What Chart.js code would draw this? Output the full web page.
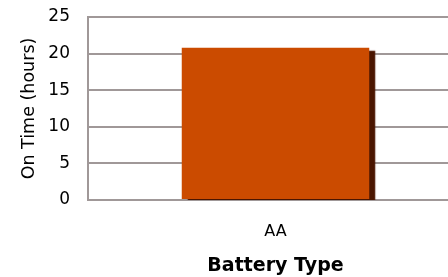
<!DOCTYPE html>
<html>
<head>
<meta charset="utf-8">
<script src="https://cdn.jsdelivr.net/npm/chart.js@4"></script>
<style>
  html, body { margin: 0; padding: 0; background: #fff; overflow: hidden; }
  #chart { display: block; }
</style>
</head>
<body>
<canvas id="chart" width="464" height="277"></canvas>
<script>
// data
const categories = ["AA"];
const onTimeHours = [20.8];
const yTicks = [0, 5, 10, 15, 20, 25];

const FONT = "'DejaVu Sans', sans-serif";
const GRID = "#a09898";

// dark drop shadow behind the bars
const barShadow = {
  id: "barShadow",
  beforeDatasetsDraw(chart) {
    const ctx = chart.ctx;
    ctx.save();
    ctx.shadowColor = "#4a1500";
    ctx.shadowOffsetX = 6;
    ctx.shadowOffsetY = 3;
    ctx.shadowBlur = 1;
  },
  afterDatasetsDraw(chart) {
    chart.ctx.restore();
  }
};

new Chart(document.getElementById("chart"), {
  type: "bar",
  data: {
    labels: categories,
    datasets: [
      {
        label: "On Time",
        data: onTimeHours,
        backgroundColor: "#cb4b00",
        borderWidth: 0,
        barPercentage: 0.5,
        categoryPercentage: 1
      }
    ]
  },
  options: {
    responsive: false,
    animation: false,
    layout: { padding: { top: 17, right: 1, bottom: 0, left: 0 } },
    plugins: {
      legend: { display: false },
      tooltip: { enabled: false }
    },
    scales: {
      x: {
        grid: { display: false },
        border: { display: true, color: GRID, width: 2 },
        ticks: {
          color: "#000",
          padding: 14,
          font: { family: FONT, size: 16 }
        },
        title: {
          display: true,
          text: "Battery Type",
          color: "#000",
          padding: { top: 0, bottom: 0 },
          font: { family: FONT, size: 19, weight: "bold" }
        },
        afterFit(scale) { scale.height = 77; }
      },
      y: {
        min: 0,
        max: 25,
        afterBuildTicks(scale) {
          scale.ticks = yTicks.map(v => ({ value: v }));
        },
        grid: { color: GRID, lineWidth: 2, drawTicks: false },
        border: { display: true, color: GRID, width: 2 },
        ticks: {
          color: "#000",
          padding: 18,
          font: { family: FONT, size: 17 }
        },
        title: {
          display: true,
          text: "On Time (hours)",
          color: "#000",
          padding: { top: 19, bottom: 0 },
          font: { family: FONT, size: 17.5 }
        },
        afterFit(scale) {
          scale.width = 88;
          scale.paddingTop = 0;
          scale.paddingBottom = 0;
        }
      }
    }
  },
  plugins: [barShadow]
});
</script>
</body>
</html>
